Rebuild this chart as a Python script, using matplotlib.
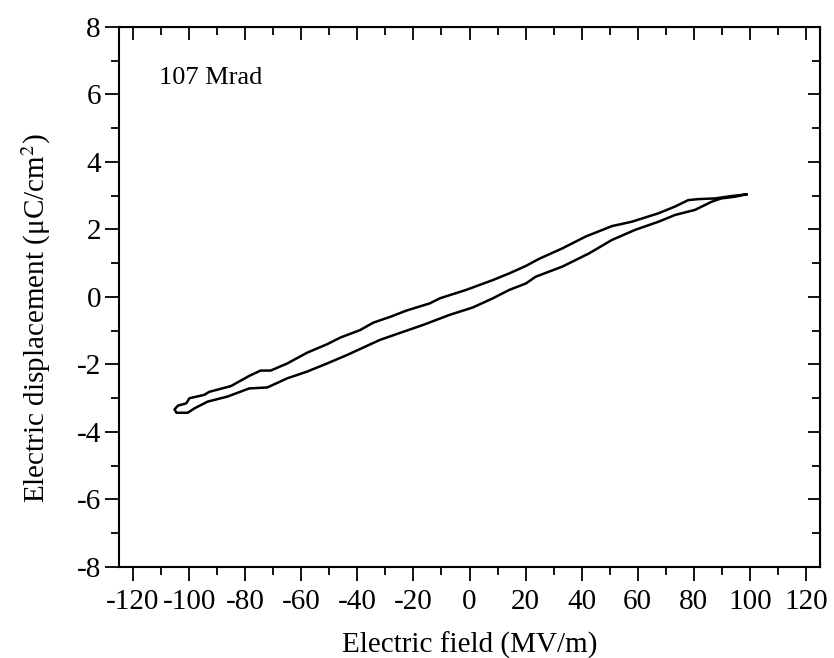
import matplotlib.pyplot as plt
from matplotlib.ticker import MultipleLocator

plt.rcParams['font.family'] = ['Liberation Serif', 'DejaVu Serif']
plt.rcParams['mathtext.fontset'] = 'stix'
plt.rcParams['axes.unicode_minus'] = False

# upper branch of the D-E loop (field decreasing), left to right
upper_e = [-105.2, -104.0, -101.0, -99.9, -94.6, -92.8, -85.1, -78.6, -74.5, -70.9,
           -65.0, -57.9, -50.8, -46.0, -39.0, -34.3, -28.0, -22.4, -14.2, -10.6,
           -1.2, 8.3, 14.2, 20.1, 24.8, 33.1, 41.4, 50.8, 57.9, 67.4,
           73.3, 78.0, 81.6, 87.5, 93.4, 98.7]
upper_d = [-3.33, -3.22, -3.15, -3.00, -2.90, -2.81, -2.64, -2.34, -2.18, -2.18,
           -1.97, -1.65, -1.40, -1.20, -0.98, -0.76, -0.58, -0.40, -0.19, -0.04,
           0.21, 0.50, 0.70, 0.92, 1.13, 1.44, 1.79, 2.10, 2.23, 2.48,
           2.68, 2.87, 2.90, 2.92, 2.99, 3.04]

# lower branch (field increasing), left to right
lower_e = [-105.2, -104.5, -100.5, -98.1, -93.4, -86.3, -78.6, -72.1, -65.0, -57.9,
           -50.8, -43.7, -39.0, -31.9, -23.6, -16.6, -7.1, 1.2, 8.3, 14.2,
           20.1, 23.6, 33.1, 42.6, 50.8, 59.1, 67.4, 73.3, 80.4, 86.3,
           89.8, 94.6, 98.7]
lower_d = [-3.33, -3.43, -3.43, -3.30, -3.10, -2.95, -2.71, -2.68, -2.41, -2.21,
           -1.97, -1.72, -1.54, -1.27, -1.03, -0.83, -0.53, -0.31, -0.04, 0.21,
           0.40, 0.60, 0.90, 1.29, 1.69, 1.99, 2.23, 2.43, 2.58, 2.82,
           2.92, 2.97, 3.04]

fig = plt.figure(figsize=(8.34, 6.58), dpi=100)
ax = fig.add_axes([0.1427, 0.1383, 0.8405, 0.8207])

loop_e = upper_e[::-1] + lower_e
loop_d = upper_d[::-1] + lower_d
ax.plot(loop_e, loop_d, color='black', lw=1.8)

ax.set_xlim(-125, 125)
ax.set_ylim(-8, 8)
ax.xaxis.set_major_locator(MultipleLocator(20))
ax.xaxis.set_minor_locator(MultipleLocator(10))
ax.yaxis.set_major_locator(MultipleLocator(2))
ax.yaxis.set_minor_locator(MultipleLocator(1))
ax.tick_params(which='both', direction='out', width=1.3, labelsize=21)
ax.tick_params(axis='x', pad=6)
ax.tick_params(axis='y', pad=3)
ax.tick_params(which='major', length=10)
ax.tick_params(which='minor', length=6)
for s in ax.spines.values():
    s.set_linewidth(1.5)

# inward ticks on top and right, no labels
top = ax.secondary_xaxis('top')
top.xaxis.set_major_locator(MultipleLocator(20))
top.xaxis.set_minor_locator(MultipleLocator(10))
top.tick_params(which='both', direction='in', width=1.3, labeltop=False)
top.tick_params(which='major', length=9)
top.tick_params(which='minor', length=6)
right = ax.secondary_yaxis('right')
right.yaxis.set_major_locator(MultipleLocator(2))
right.yaxis.set_minor_locator(MultipleLocator(1))
right.tick_params(which='both', direction='in', width=1.3, labelright=False)
right.tick_params(which='major', length=9)
right.tick_params(which='minor', length=6)

ax.set_xlabel('Electric field (MV/m)', fontsize=21, labelpad=12)
ax.set_ylabel('Electric displacement (\u03bcC/cm$^2$)', fontsize=21)
ax.yaxis.set_label_coords(-0.094, 0.461)

ax.text(-110.6, 6.5, '107 Mrad', fontsize=19, ha='left', va='center')

fig.savefig('out.png', dpi=100)
